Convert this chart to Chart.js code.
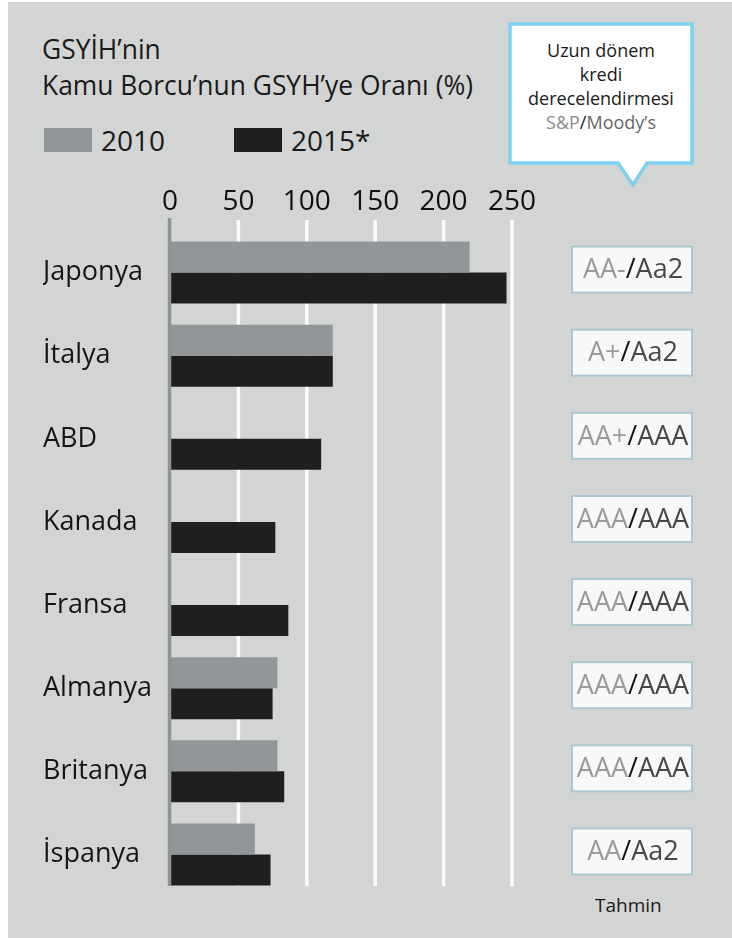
<!DOCTYPE html>
<html lang="tr">
<head>
<meta charset="utf-8">
<script src="https://cdn.jsdelivr.net/npm/chart.js@4/dist/chart.umd.min.js"></script>
<style>
  html, body { margin: 0; padding: 0; background: #fff; }
  body { width: 732px; height: 938px; position: relative; overflow: hidden; font-family: 'Open Sans', sans-serif; color: #1a1a1a; }
  .bg { position: absolute; left: 8px; top: 2px; right: 0; bottom: 0; background: #d3d5d4; }
  canvas { position: absolute; left: 0; top: 0; }
  .title { position: absolute; left: 42px; font-size: 26.4px; line-height: 1; white-space: nowrap; }
  .swatch { position: absolute; top: 128px; width: 48px; height: 24px; }
  .leg { position: absolute; top: 126px; font-size: 28px; line-height: 1; }
  .callout { position: absolute; left: 0; top: 0; }
  .ctext { position: absolute; left: 510px; width: 182px; text-align: center; font-size: 18px; line-height: 24px; top: 38px; }
  .tahmin { position: absolute; left: 595px; top: 896px; font-size: 19px; line-height: 1; }
</style>
</head>
<body>
<div class="bg"></div>
<div class="title" style="top:36px">GSYİH’nin</div>
<div class="title" style="top:72px">Kamu Borcu’nun GSYH’ye Oranı (%)</div>
<div class="swatch" style="left:44px;background:#939699"></div>
<div class="leg" style="left:101px">2010</div>
<div class="swatch" style="left:234px;background:#201f20"></div>
<div class="leg" style="left:291px">2015*</div>
<svg class="callout" width="732" height="200">
  <polygon points="510,24 692,24 692,163 647,163 633,185 618,163 510,163" fill="#ffffff" stroke="#7fd1ef" stroke-width="3.5"/>
</svg>
<div class="ctext">Uzun dönem<br>kredi<br>derecelendirmesi<br><span style="color:#8c8c8c">S&amp;P</span><span style="color:#222">/</span><span style="color:#666">Moody’s</span></div>
<div class="tahmin">Tahmin</div>
<canvas id="c" width="732" height="938"></canvas>
<script>
const countries = ['Japonya', 'İtalya', 'ABD', 'Kanada', 'Fransa', 'Almanya', 'Britanya', 'İspanya']
const debt2010 = [219, 119, null, null, null, 78.5, 78.5, 62]
const debt2015 = [246, 119, 110.5, 77, 86.5, 75, 83.5, 73.5]
const ratingSP = ['AA-', 'A+', 'AA+', 'AAA', 'AAA', 'AAA', 'AAA', 'AA']
const ratingMoody = ['Aa2', 'Aa2', 'AAA', 'AAA', 'AAA', 'AAA', 'AAA', 'Aa2']

const gridPlugin = {
  id: 'grid',
  beforeDatasetsDraw(chart) {
    const { ctx, scales: { x } } = chart
    ctx.save()
    ctx.strokeStyle = '#fbfbfb'
    ctx.lineWidth = 3.5
    x.ticks.forEach((t) => {
      if (t.value === 0) return
      const px = x.getPixelForValue(t.value)
      ctx.beginPath()
      ctx.moveTo(px, 220)
      ctx.lineTo(px, 886)
      ctx.stroke()
    })
    ctx.restore()
  },
  afterDatasetsDraw(chart) {
    const { ctx, scales: { x } } = chart
    const px = x.getPixelForValue(0)
    ctx.save()
    ctx.strokeStyle = '#8e9394'
    ctx.lineWidth = 3.5
    ctx.beginPath()
    ctx.moveTo(px - 0.5, 218)
    ctx.lineTo(px - 0.5, 886)
    ctx.stroke()
    ctx.restore()
  },
}

const ratingPlugin = {
  id: 'ratings',
  afterDraw(chart) {
    const { ctx, scales: { y } } = chart
    ctx.save()
    ctx.font = '27px "Open Sans"'
    ctx.textBaseline = 'middle'
    countries.forEach((c, i) => {
      const cy = y.getPixelForValue(i) - 3
      ctx.fillStyle = '#f7f9f9'
      ctx.fillRect(572, cy - 23, 120, 46)
      ctx.strokeStyle = '#a9c8d2'
      ctx.lineWidth = 2
      ctx.strokeRect(572, cy - 23, 120, 46)
      const parts = [
        [ratingSP[i], '#9a9a9a'],
        ['/', '#111111'],
        [ratingMoody[i], '#474747'],
      ]
      const total = parts.reduce((w, p) => w + ctx.measureText(p[0]).width, 0)
      let px = 633 - total / 2
      parts.forEach(([txt, col]) => {
        ctx.fillStyle = col
        ctx.fillText(txt, px, cy + 1)
        px += ctx.measureText(txt).width
      })
    })
    ctx.restore()
  },
}

new Chart(document.getElementById('c'), {
  type: 'bar',
  data: {
    labels: countries,
    datasets: [
      { label: '2010', data: debt2010, backgroundColor: '#939699' },
      { label: '2015*', data: debt2015, backgroundColor: '#201f20' },
    ],
  },
  options: {
    indexAxis: 'y',
    responsive: false,
    animation: false,
    events: [],
    barPercentage: 1,
    categoryPercentage: 0.745,
    layout: { padding: { left: 43, top: 170, right: 220, bottom: 42 } },
    plugins: { legend: { display: false }, tooltip: { enabled: false } },
    scales: {
      x: {
        position: 'top',
        min: 0,
        max: 250,
        ticks: { stepSize: 50, color: '#111', font: { family: 'Open Sans', size: 28 }, padding: 12 },
        grid: { display: false, drawTicks: false },
        border: { display: false },
        afterFit(scale) { scale.height = 61 },
      },
      y: {
        ticks: { crossAlign: 'far', color: '#151515', font: { family: 'Open Sans', size: 27 }, padding: 0 },
        grid: { display: false, drawTicks: false },
        border: { display: false },
        afterFit(scale) { scale.width = 127 },
      },
    },
  },
  plugins: [gridPlugin, ratingPlugin],
})
</script>
</body>
</html>
